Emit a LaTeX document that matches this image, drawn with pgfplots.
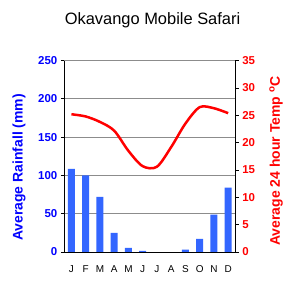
\documentclass[border=0pt]{standalone}
\usepackage{pgfplots}
\pgfplotsset{compat=1.18}
\usepackage{fontspec}
\setmainfont{Liberation Sans}
\definecolor{barblue}{RGB}{51,102,255}
\definecolor{gridgray}{RGB}{140,140,140}
\begin{document}
\begin{tikzpicture}
\path[use as bounding box] (-64.3bp,-39bp) rectangle (228.7bp,252bp);
\begin{axis}[
  at={(0,0)}, anchor=south west,
  scale only axis, width=171bp, height=191.3bp,
  xmin=-0.5, xmax=11.5, ymin=0, ymax=250,
  /pgf/number format/assume math mode=true,
  axis x line*=bottom, axis y line*=left,
  axis line style={-, black, line width=1bp},
  ytick={0,50,...,250},
  ymajorgrids, major grid style={gridgray, line width=1bp},
  tick align=outside, major tick length=3.5bp,
  every tick/.style={black, line width=1bp},
  xtick={0,...,11}, xticklabels={J,F,M,A,M,J,J,A,S,O,N,D},
  x tick style={draw=none},
  xticklabel style={font=\fontsize{10}{12}\selectfont, yshift=-6.5bp},
  yticklabel style={blue, font=\bfseries\fontsize{11.5}{13}\selectfont},
  ylabel={Average Rainfall (mm)},
  ylabel style={at={(axis description cs:-0.265,0.442)}, anchor=center, blue, font=\bfseries\fontsize{14}{16}\selectfont},
  title={Okavango Mobile Safari},
  title style={at={(axis description cs:0.516,1.182)}, anchor=center, font=\fontsize{16.5}{18}\selectfont},
]
\addplot[ybar, fill=barblue, draw=none, bar width=7bp] coordinates {
(0,108.5) (1,100) (2,72) (3,25) (4,5.5) (5,1.5) (6,0) (7,0) (8,3) (9,17) (10,49) (11,84)};
\end{axis}
\begin{axis}[
  at={(0,0)}, anchor=south west,
  scale only axis, width=171bp, height=191.3bp,
  xmin=-0.5, xmax=11.5, ymin=0, ymax=35,
  /pgf/number format/assume math mode=true,
  axis x line=none, axis y line*=right,
  axis line style={-, black, line width=1bp},
  ytick={0,5,...,35},
  tick align=outside, major tick length=3.5bp,
  every tick/.style={black, line width=1bp},
  yticklabel style={red, font=\bfseries\fontsize{11.5}{13}\selectfont},
  ylabel={Average 24 hour Temp \textsuperscript{o}C},
  ylabel style={at={(axis description cs:1.238,0.476)}, anchor=center, red, font=\bfseries\fontsize{14}{16}\selectfont},
]
\addplot[red, line width=2.5bp, smooth] coordinates {
(0,25.2) (1,24.8) (2,23.8) (3,22.2) (4,18.5) (5,15.7) (6,15.6) (7,19.2) (8,23.5) (9,26.5) (10,26.3) (11,25.4)};
\end{axis}
\end{tikzpicture}
\end{document}
